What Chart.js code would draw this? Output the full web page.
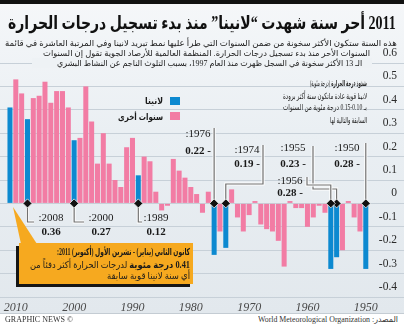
<!DOCTYPE html>
<html lang="ar">
<head>
<meta charset="utf-8">
<script src="https://cdn.jsdelivr.net/npm/chart.js@4.4.1/dist/chart.umd.min.js"></script>
<style>
  html, body { margin: 0; padding: 0; }
  body { width: 404px; height: 329px; overflow: hidden; }
  #frame { position: relative; width: 404px; height: 329px; overflow: hidden;
           background: linear-gradient(#f5f7f9 0%, #eaeff3 40%, #e2e8ed 95%); }
  #plot { position: absolute; left: 0; top: 0; width: 404px; height: 329px; }
  .t { position: absolute; white-space: nowrap; direction: rtl; color: #1b1b1b;
       font-family: "Liberation Serif", "DejaVu Sans", sans-serif; transform-origin: 0 50%; }
  .topbar { position: absolute; left: 0; top: 0; width: 404px; height: 4px; background: #111; }
  .title { font-size: 18px; line-height: 22px; font-weight: bold; color: #111; }
  .sub { font-size: 8.5px; line-height: 10px; color: #222; }
  .note { font-size: 8.5px; line-height: 10px; color: #222; }
  .lg { font-size: 9px; line-height: 10px; font-weight: bold; }
  .swatch { position: absolute; width: 10px; height: 8px; }
  .box { position: absolute; left: 19px; top: 243px; width: 174px; height: 41px;
         background: #f6a91f; box-shadow: -3px 3px 0 #161616; }
  .pointer { position: absolute; left: 11px; top: 207px; width: 28px; height: 38px; background: #f6a91f;
             clip-path: polygon(2px 0, 10px 37px, 26px 37px); }
  .co { font-size: 9.5px; line-height: 11px; color: #1a1a1a; }
  .subbg { position: absolute; left: 32px; top: 58px; width: 340px; height: 10px; background: #eef2f5; }
  .footer { position: absolute; left: 0; top: 313px; width: 404px; height: 16px; background: #fff; border-top: 1px solid #c4ccd3; }
  .ft { font-size: 8px; line-height: 10px; color: #333; }
</style>
</head>
<body>
<div id="frame">
  <div class="topbar"></div>
  <div id="plot"><canvas id="grafico"></canvas></div>

  <div class="subbg"></div>
  <div class="footer"></div>
  <div class="pointer"></div>
  <div class="box"></div>

  <div class="t title" data-box="8,396,23">2011 أحر سنة شهدت “لانينا” منذ بدء تسجيل درجات الحرارة</div>
  <div class="t sub" data-box="5,397,43">هذه السنة ستكون الأكثر سخونة من ضمن السنوات التي طرأ عليها نمط تبريد لانينا وفي المرتبة العاشرة في قائمة</div>
  <div class="t sub" data-box="43,370,52.5">السنوات الأحر منذ بدء تسجيل درجات الحرارة. المنظمة العالمية للأرصاد الجوية تقول إن السنوات</div>
  <div class="t sub" data-box="57,362,63">الـ 13 الأكثر سخونة في السجل ظهرت منذ العام 1997، بسبب التلوث الناجم عن النشاط البشري</div>

  <div class="t note" data-box="310,367,83"><b>شذوذ درجة الحرارة</b> (درجة مئوية)</div>
  <div class="t note" data-box="283,367,95.5">لانينا قوية عادة ماتكون سنة أكثر برودة</div>
  <div class="t note" data-box="283,367,107">بـ 0.10-0.15 درجة مئوية من السنوات</div>
  <div class="t note" data-box="330,367,119.5">السابقة والتالية لها</div>

  <div class="swatch" id="sw0" style="left:170px;top:97px"></div>
  <div class="swatch" id="sw1" style="left:170px;top:112px"></div>
  <div class="t lg" id="lg0" data-box="145,163,101"></div>
  <div class="t lg" id="lg1" data-box="118,163,116.5"></div>

  <div class="t co" data-box="57,190,252.7"><b>كانون الثاني (يناير) - تشرين الأول (أكتوبر) 2011:</b></div>
  <div class="t co" data-box="30,190,265"><b><span id="val2011"></span> درجة مئوية</b> لدرجات الحرارة أكثر دفئاً من</div>
  <div class="t co" data-box="107,190,276.7">أي سنة لانينا قوية سابقة</div>

  <div class="t ft" data-box="5,73,320">© GRAPHIC NEWS</div>
  <div class="t ft" data-box="258,398,320">المصدر: World Meteorological Organization</div>
</div>

<script>
// anomalies in °C, strong La Nina years
const ninaYears = [1950, 1955, 1956, 1974, 1976, 1989, 2000, 2008, 2011];
const ninaValues = [-0.28, -0.23, -0.28, -0.19, -0.22, 0.12, 0.27, 0.36, 0.41];

// all other years
const otherYears = [
  1951, 1952, 1953, 1954, 1957, 1958, 1959, 1960, 1961, 1962, 1963, 1964, 1965, 1966, 1967, 1968, 1969,
  1970, 1971, 1972, 1973, 1975, 1977, 1978, 1979, 1980, 1981, 1982, 1983, 1984, 1985, 1986, 1987, 1988,
  1990, 1991, 1992, 1993, 1994, 1995, 1996, 1997, 1998, 1999, 2001, 2002, 2003, 2004, 2005, 2006, 2007,
  2009, 2010,
];
const otherValues = [
  -0.12, -0.06, 0.01, -0.20, -0.04, -0.01, -0.06, -0.10, -0.02, -0.02, 0.01, -0.27, -0.16, -0.12, -0.11, -0.09, 0.01,
  -0.05, -0.12, -0.06, 0.06, -0.12, 0.05, -0.04, 0.04, 0.07, 0.11, 0.14, 0.19, -0.01, -0.03, 0.05, 0.18, 0.20,
  0.28, 0.24, 0.07, 0.10, 0.17, 0.30, 0.17, 0.35, 0.50, 0.28, 0.41, 0.48, 0.48, 0.43, 0.52, 0.46, 0.45,
  0.47, 0.53,
];

const decadeTicks = [2010, 2000, 1990, 1980, 1970, 1960, 1950];
const anomalyTicks = [0.6, 0.5, 0.4, 0.3, 0.2, 0.1, 0, -0.1, -0.2, -0.3, -0.4];

const seriesNames = ['لانينا', 'سنوات أخرى'];
const blue = '#0c89d0';
const pink = '#f27ca4';

// where each La Nina label sits and how its leader line bends (canvas px, null = bar x)
const callouts = {
  2008: { cx: 51, y1: 218, y2: 232, path: [[null, 222], [34, 222]] },
  2000: { cx: 101, y1: 218, y2: 232, path: [[null, 222], [84, 222]] },
  1989: { cx: 156, y1: 218, y2: 232, path: [[null, 222], [142, 222]] },
  1976: { cx: 198, y1: 134, y2: 151, path: [[null, 128]] },
  1974: { cx: 247, y1: 150, y2: 164, path: [[null, 184], [263, 184], [263, 145]] },
  1955: { cx: 293, y1: 148, y2: 164, path: [[null, 189], [313, 189], [313, 146]] },
  1956: { cx: 290, y1: 181, y2: 193, path: [[null, 185], [307, 185], [307, 177]] },
  1950: { cx: 347, y1: 148, y2: 164, path: [[null, 143]] },
};

document.getElementById('val2011').textContent = ninaValues[ninaYears.indexOf(2011)].toFixed(2);
document.getElementById('lg0').textContent = seriesNames[0];
document.getElementById('lg1').textContent = seriesNames[1];
document.getElementById('sw0').style.background = blue;
document.getElementById('sw1').style.background = pink;

// squeeze each text line into its box: left, right, centre y
document.querySelectorAll('[data-box]').forEach(function (el) {
  const b = el.dataset.box.split(',').map(Number);
  const w = el.getBoundingClientRect().width;
  el.style.left = b[0] + 'px';
  el.style.top = (b[2] - el.offsetHeight / 2) + 'px';
  el.style.transform = 'scaleX(' + ((b[1] - b[0]) / w).toFixed(3) + ')';
});

const leaderLines = {
  id: 'leaderLines',
  afterDatasetsDraw(chart) {
    const ctx = chart.ctx;
    const xs = chart.scales.x;
    const y0 = chart.scales.y.getPixelForValue(0);
    ctx.save();
    ninaYears.forEach(function (yr, i) {
      const c = callouts[yr];
      if (!c) return;
      const bx = xs.getPixelForValue(yr);
      const pts = [[bx, y0]].concat(c.path.map(p => [p[0] === null ? bx : p[0], p[1]]));
      [['#ffffff', 3], ['#707070', 1.2]].forEach(function (st) {
        ctx.strokeStyle = st[0];
        ctx.lineWidth = st[1];
        ctx.beginPath();
        pts.forEach((p, k) => k ? ctx.lineTo(p[0], p[1]) : ctx.moveTo(p[0], p[1]));
        ctx.stroke();
      });
      // diamond marker on the zero line
      ctx.fillStyle = '#111';
      ctx.strokeStyle = '#f0f0f0';
      ctx.lineWidth = 0.8;
      ctx.beginPath();
      ctx.moveTo(bx, y0 - 4.5);
      ctx.lineTo(bx + 4.5, y0);
      ctx.lineTo(bx, y0 + 4.5);
      ctx.lineTo(bx - 4.5, y0);
      ctx.closePath();
      ctx.fill();
      ctx.stroke();

      const v = ninaValues[i];
      ctx.textAlign = 'center';
      ctx.textBaseline = 'middle';
      ctx.fillStyle = '#1a1a1a';
      ctx.font = '11px "Liberation Serif", serif';
      ctx.fillText(':' + yr, c.cx, c.y1);
      ctx.font = 'bold 11px "Liberation Serif", serif';
      ctx.fillText(v < 0 ? Math.abs(v).toFixed(2) + ' -' : v.toFixed(2), c.cx, c.y2);
    });
    ctx.restore();
  },
};

const ctx = document.getElementById('grafico').getContext('2d');

new Chart(ctx, {
  type: 'bar',
  data: {
    datasets: [
      {
        label: seriesNames[0],
        data: ninaYears.map((yr, i) => ({ x: yr, y: ninaValues[i] })),
        backgroundColor: blue,
      },
      {
        label: seriesNames[1],
        data: otherYears.map((yr, i) => ({ x: yr, y: otherValues[i] })),
        backgroundColor: pink,
      },
    ],
  },
  options: {
    responsive: true,
    maintainAspectRatio: false,
    animation: false,
    grouped: false,
    categoryPercentage: 1,
    barPercentage: 0.86,
    layout: { padding: { top: 63, left: 0, right: 0, bottom: 0 } },
    plugins: {
      legend: { display: false },
      tooltip: { enabled: false },
    },
    scales: {
      x: {
        type: 'linear',
        reverse: true,
        offset: false,
        bounds: 'data',
        min: 1943.45,
        max: 2012.71,
        grid: { display: false, drawTicks: false, offset: false },
        border: { display: false },
        afterBuildTicks: s => { s.ticks = decadeTicks.map(v => ({ value: v })); },
        ticks: {
          autoSkip: false,
          maxRotation: 0,
          padding: 4,
          color: '#4a4a4a',
          font: { family: '"Liberation Serif", serif', size: 12, style: 'italic' },
          callback: v => String(v),
        },
        afterFit: s => { s.height = 32; s.paddingLeft = 0; s.paddingRight = 0; },
      },
      y: {
        position: 'right',
        min: -0.4,
        max: 0.6,
        grid: { color: '#c7d0d8', drawTicks: false },
        border: { display: false },
        afterBuildTicks: s => { s.ticks = anomalyTicks.map(v => ({ value: v })); },
        ticks: {
          autoSkip: false,
          mirror: true,
          padding: -7,
          labelOffset: -10,
          color: '#2a2a2a',
          font: { family: '"Liberation Serif", serif', size: 11.5 },
          callback: v => v === 0 ? '0' : v.toFixed(1),
        },
        afterFit: s => { s.width = 0; s.paddingTop = 0; s.paddingBottom = 0; },
      },
    },
  },
  plugins: [leaderLines],
});
</script>
</body>
</html>
